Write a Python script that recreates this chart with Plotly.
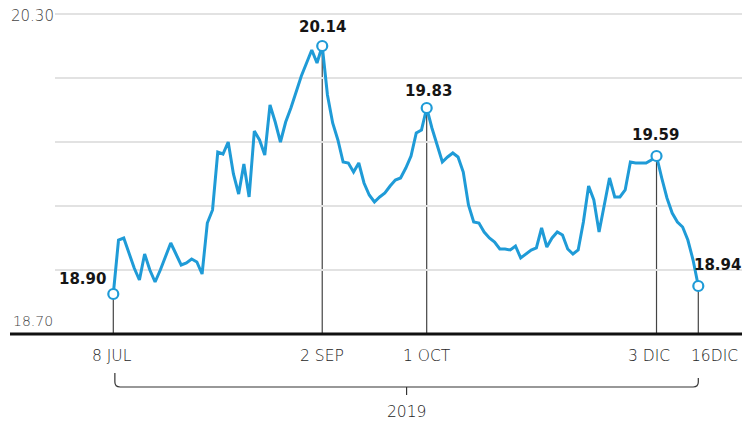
import pandas as pd
import plotly.graph_objects as go

# ---- data ----
holidays = ["2019-09-16", "2019-11-18", "2019-12-12"]
dates = [d.strftime("%Y-%m-%d") for d in pd.bdate_range("2019-07-08", "2019-12-16")
         if d.strftime("%Y-%m-%d") not in holidays]

values = [
    18.90, 19.17, 19.18, 19.10, 19.03, 18.97, 19.10, 19.02, 18.96, 19.02,
    19.085, 19.155, 19.10, 19.045, 19.055, 19.075, 19.06, 19.00, 19.255, 19.32,
    19.61, 19.60, 19.66, 19.50, 19.40, 19.55, 19.385, 19.715, 19.67, 19.595,
    19.845, 19.76, 19.66, 19.76, 19.83, 19.91, 19.99, 20.055, 20.12, 20.055,
    20.14, 19.895, 19.755, 19.67, 19.56, 19.555, 19.51, 19.555, 19.455, 19.395,
    19.36, 19.385, 19.405, 19.44, 19.47, 19.48, 19.53, 19.59, 19.705, 19.72,
    19.83, 19.73, 19.64, 19.56, 19.585, 19.605, 19.585, 19.51, 19.345, 19.26,
    19.255, 19.21, 19.18, 19.16, 19.125, 19.125, 19.12, 19.14, 19.08, 19.10,
    19.12, 19.13, 19.23, 19.135, 19.18, 19.21, 19.195, 19.125, 19.10, 19.12,
    19.26, 19.44, 19.37, 19.21, 19.355, 19.48, 19.385, 19.385, 19.42, 19.56,
    19.555, 19.555, 19.555, 19.57, 19.59, 19.48, 19.38, 19.305, 19.26, 19.235,
    19.17, 19.07, 18.94,
]

highlight_dates = ["2019-07-08", "2019-09-02", "2019-10-01", "2019-12-03", "2019-12-16"]
x_tick_dates = ["2019-07-08", "2019-09-02", "2019-10-01", "2019-12-03", "2019-12-16"]
x_tick_text = ["8 JUL", "2 SEP", "1 OCT", "3 DIC", "16DIC"]
y_grid_vals = [18.70, 19.02, 19.34, 19.66, 19.98, 20.30]
y_label_vals = [18.70, 20.30]
year_label = "2019"

# ---- styling ----
BLUE = "#1f9bd7"
FONT = "DejaVu Sans"
GRID = "#e2e2e2"
Y_MIN, Y_MAX = 18.70, 20.30
Y_TOP = 20.31  # small headroom so the top gridline is drawn inside the plot

W, H = 742, 422
# plot area in pixel coordinates (20.30 at y=14, 18.70 at y=334)
PL, PR, PB = 55, 742, 334
px_per_unit = 320 / (Y_MAX - Y_MIN)
PT = 14 - (Y_TOP - Y_MAX) * px_per_unit
M_L, M_R, M_T, M_B = PL, W - PR, PT, H - PB
PW, PH = PR - PL, PB - PT
X0_PX, X1_PX = 113.3, 698.3  # pixel position of first / last point
step = (X1_PX - X0_PX) / (len(dates) - 1)
x_lo = (PL - X0_PX) / step
x_hi = (PR - X0_PX) / step

def py(px):  # pixel y -> paper y
    return (PB - px) / PH

def px_x(px):  # pixel x -> paper x
    return (px - PL) / PW

idx = {d: i for i, d in enumerate(dates)}
hl_vals = [values[idx[d]] for d in highlight_dates]

fig = go.Figure()
fig.add_trace(go.Scatter(x=dates, y=values, mode="lines",
                         line=dict(color=BLUE, width=3), hoverinfo="skip"))
fig.add_trace(go.Scatter(x=highlight_dates, y=hl_vals, mode="markers",
                         marker=dict(symbol="circle", size=10, color="white",
                                     line=dict(color=BLUE, width=2.2)),
                         hoverinfo="skip"))

shapes = []
# vertical drop lines
for d, v in zip(highlight_dates, hl_vals):
    shapes.append(dict(type="line", xref="x", yref="y", x0=d, x1=d, y0=Y_MIN, y1=v,
                       line=dict(color="#444444", width=1.2), layer="below"))
# bottom baseline
shapes.append(dict(type="line", xref="paper", yref="paper", x0=px_x(10), x1=1,
                   y0=0, y1=0, line=dict(color="#111111", width=2.8)))
# bracket
i0, i1 = idx[x_tick_dates[0]] + 0.3, idx[x_tick_dates[-1]]
ya, yc = py(373), py(387)
r_x, r_y = 1.0, 5 / PH
path = (f"M {i0},{ya} L {i0},{yc + r_y} Q {i0},{yc} {i0 + r_x},{yc} "
        f"L {i1 - r_x},{yc} Q {i1},{yc} {i1},{yc + r_y} L {i1},{py(378)}")
shapes.append(dict(type="path", xref="x", yref="paper", path=path,
                   line=dict(color="#333333", width=1.2)))
mid = (i0 + i1) / 2
shapes.append(dict(type="line", xref="x", yref="paper", x0=mid, x1=mid,
                   y0=yc, y1=py(395), line=dict(color="#333333", width=1.2)))

annotations = []
# value labels
lab_pos = [  # xanchor, xshift, yshift
    ("right", -5, 15),
    ("center", 0, 19),
    ("center", 2, 17),
    ("center", -1, 21),
    ("left", -6, 21),
]
for d, v, (xa, xs, ys) in zip(highlight_dates, hl_vals, lab_pos):
    annotations.append(dict(x=d, y=v, xref="x", yref="y", text=f"{v:.2f}",
                            showarrow=False, xanchor=xa, yanchor="middle",
                            xshift=xs, yshift=ys,
                            font=dict(family=FONT, size=15, color="#151515", weight="bold")))
# x tick labels
tick_anchor = ["center", "center", "center", "center", "right"]
tick_shift = [-1, 0, 0, -8, 42]
for d, t, a, s in zip(x_tick_dates, x_tick_text, tick_anchor, tick_shift):
    annotations.append(dict(x=d, y=py(356), xref="x", yref="paper", text=t,
                            showarrow=False, xanchor=a, yanchor="middle", xshift=s,
                            font=dict(family=FONT, size=15.5, color="#262626", weight=300)))
# year label
annotations.append(dict(x=mid, y=py(412), xref="x", yref="paper", text=year_label,
                        showarrow=False, xanchor="center", yanchor="middle",
                        font=dict(family=FONT, size=15.5, color="#262626", weight=300)))
# y labels
y_lab_pos = {18.70: (11, 321, 14), 20.30: (9, 16, 15)}
for v in y_label_vals:
    lx, ly, fs = y_lab_pos[v]
    annotations.append(dict(x=px_x(lx), y=py(ly), xref="paper", yref="paper",
                            text=f"{v:.2f}", showarrow=False, xanchor="left",
                            yanchor="middle",
                            font=dict(family=FONT, size=fs, color="#444444", weight=300)))

fig.update_layout(
    width=W, height=H,
    margin=dict(l=M_L, r=M_R, t=M_T, b=M_B),
    paper_bgcolor="white", plot_bgcolor="white",
    showlegend=False,
    hovermode=False,
    xaxis=dict(type="category", range=[x_lo, x_hi], showgrid=False,
               showticklabels=False, showline=False, zeroline=False, ticks=""),
    yaxis=dict(range=[Y_MIN, Y_TOP], tickvals=y_grid_vals, showticklabels=False,
               gridcolor=GRID, gridwidth=1.5, zeroline=False, showline=False,
               ticks=""),
    shapes=shapes,
    annotations=annotations,
)

fig.write_html(
    "out.html",
    config={"displayModeBar": False, "staticPlot": True},
    post_script="document.body.style.margin='0';document.body.style.overflow='hidden';",
)
